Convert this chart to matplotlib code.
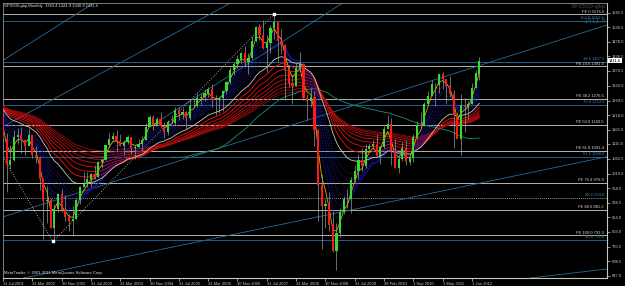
import numpy as np
import matplotlib
matplotlib.use("Agg")
import matplotlib.pyplot as plt

# monthly bars, Aug 2001 .. Mar 2012 (broker feed has 3 split bars in 2009/2010)
opens = [1211.2, 1133.6, 1040.9, 1059.8, 1139.5,
         1148.1, 1130.2, 1106.7, 1147.4, 1076.9, 1067.1, 989.8, 911.6, 916.1, 815.3, 885.8, 936.3,
         879.8, 855.7, 841.2, 848.2, 916.9, 963.6, 974.5, 990.3, 1008.0, 996.0, 1050.7, 1058.2,
         1111.9, 1131.1, 1144.9, 1126.2, 1107.3, 1120.7, 1140.8, 1101.7, 1104.2, 1114.6, 1130.2, 1173.8,
         1211.9, 1181.3, 1203.6, 1180.6, 1156.9, 1191.5, 1191.3, 1234.2, 1220.3, 1228.8, 1207.0, 1249.5,
         1248.3, 1280.1, 1280.7, 1294.8, 1310.6, 1270.1, 1270.2, 1276.7, 1303.8, 1335.9, 1377.9, 1400.6,
         1418.3, 1438.2, 1406.8, 1420.9, 1482.4, 1530.6, 1503.4, 1455.3, 1474.0, 1526.8, 1549.4, 1481.1,
         1468.4, 1378.6, 1330.6, 1322.7, 1385.6, 1400.4, 1280.0, 1267.4, 1282.8, 1166.4, 968.8, 896.2,
         903.3, 825.9, 735.1, 797.9, 872.8, 919.1, 919.3, 987.5, 1020.6, 1057.1, 1036.2, 1095.6, 1109.0,
         1115.1, 1073.9, 1104.5, 1169.4, 1186.7, 1089.4, 1030.7, 1060.3, 1101.6, 1049.3, 1064.6, 1141.2,
         1183.3, 1180.6,
         1257.6, 1286.1, 1327.2, 1325.8, 1363.6, 1345.2, 1320.6, 1292.3, 1218.9, 1131.4, 1253.3, 1247.0,
         1257.6, 1312.4, 1363.4]
highs = [1226.3, 1155.4, 1110.6, 1163.4, 1173.6,
         1176.6, 1130.2, 1173.0, 1147.8, 1106.6, 1070.7, 994.5, 965.0, 924.0, 900.1, 941.8, 954.3,
         935.1, 864.6, 895.9, 924.2, 965.4, 1015.3, 1015.4, 1011.0, 1040.0, 1053.8, 1063.7, 1112.6,
         1155.4, 1158.9, 1163.2, 1150.6, 1127.7, 1146.3, 1140.8, 1109.7, 1131.5, 1142.1, 1188.5, 1217.3,
         1217.9, 1212.4, 1229.1, 1191.9, 1199.6, 1219.6, 1245.2, 1245.9, 1243.1, 1233.3, 1270.6, 1275.8,
         1294.9, 1297.6, 1310.9, 1318.2, 1326.7, 1290.7, 1280.4, 1306.7, 1340.3, 1389.5, 1407.9, 1431.8,
         1441.6, 1461.6, 1438.9, 1498.0, 1535.6, 1540.6, 1555.9, 1503.9, 1538.7, 1576.1, 1552.8, 1523.6,
         1471.8, 1396.0, 1359.7, 1404.0, 1440.2, 1404.1, 1292.2, 1313.2, 1303.0, 1167.0, 1007.5, 918.9,
         943.9, 877.9, 833.0, 888.7, 930.2, 956.2, 996.7, 1039.5, 1080.2, 1101.4, 1113.7, 1119.7, 1130.4,
         1150.5, 1112.4, 1180.2, 1219.8, 1206.2, 1131.2, 1071.0, 1120.9, 1129.2, 1070.0, 1148.9, 1196.1,
         1227.1, 1262.6,
         1302.7, 1344.1, 1332.3, 1364.6, 1370.6, 1345.2, 1356.5, 1307.4, 1229.3, 1292.7, 1277.6, 1269.4,
         1333.5, 1378.0, 1424.9]
lows = [1124.9, 944.8, 1026.8, 1054.3, 1114.9,
        1081.7, 1074.4, 1106.7, 1063.5, 1048.9, 952.9, 775.7, 833.4, 815.3, 768.6, 872.1, 872.0,
        840.3, 806.3, 788.9, 847.9, 902.8, 963.6, 962.1, 960.8, 990.4, 996.0, 1031.2, 1058.2,
        1105.1, 1124.4, 1087.2, 1107.2, 1076.3, 1113.3, 1078.8, 1060.7, 1102.0, 1090.2, 1127.6, 1173.8,
        1163.8, 1180.1, 1176.9, 1136.2, 1146.2, 1188.3, 1183.6, 1201.1, 1205.4, 1168.2, 1201.1, 1246.6,
        1245.7, 1253.6, 1268.4, 1280.7, 1245.3, 1219.3, 1224.5, 1233.2, 1290.9, 1327.1, 1360.9, 1385.9,
        1403.9, 1389.1, 1363.8, 1416.4, 1476.7, 1484.2, 1454.3, 1370.6, 1439.3, 1489.6, 1406.1, 1435.7,
        1270.1, 1316.8, 1256.9, 1321.0, 1373.7, 1272.0, 1200.4, 1247.5, 1106.4, 839.8, 741.0, 815.7,
        804.3, 731.1, 666.8, 783.3, 866.1, 888.9, 869.3, 978.5, 991.0, 1020.2, 1029.4, 1085.9, 1098.0,
        1071.6, 1044.5, 1101.4, 1168.0, 1040.8, 1028.3, 1010.9, 1055.0, 1040.9, 1039.8, 1049.3, 1131.9,
        1173.0, 1180.6,
        1257.6, 1286.1, 1249.1, 1294.7, 1311.8, 1258.1, 1282.9, 1101.5, 1136.2, 1074.8, 1158.7, 1202.4,
        1257.6, 1312.4, 1340.9]
closes = [1133.6, 1040.9, 1059.8, 1139.5, 1148.1,
          1130.2, 1106.7, 1147.4, 1076.9, 1067.1, 989.8, 911.6, 916.1, 815.3, 885.8, 936.3, 879.8,
          855.7, 841.2, 848.2, 916.9, 963.6, 974.5, 990.3, 1008.0, 996.0, 1050.7, 1058.2, 1111.9,
          1131.1, 1144.9, 1126.2, 1107.3, 1120.7, 1140.8, 1101.7, 1104.2, 1114.6, 1130.2, 1173.8, 1211.9,
          1181.3, 1203.6, 1180.6, 1156.9, 1191.5, 1191.3, 1234.2, 1220.3, 1228.8, 1207.0, 1249.5, 1248.3,
          1280.1, 1280.7, 1294.8, 1310.6, 1270.1, 1270.2, 1276.7, 1303.8, 1335.9, 1377.9, 1400.6, 1418.3,
          1438.2, 1406.8, 1420.9, 1482.4, 1530.6, 1503.4, 1455.3, 1474.0, 1526.8, 1549.4, 1481.1, 1468.4,
          1378.6, 1330.6, 1322.7, 1385.6, 1400.4, 1280.0, 1267.4, 1282.8, 1166.4, 968.8, 896.2, 903.3,
          825.9, 735.1, 797.9, 872.8, 919.1, 919.3, 987.5, 1020.6, 1057.1, 1036.2, 1095.6, 1109.0, 1115.1,
          1073.9, 1104.5, 1169.4, 1186.7, 1089.4, 1030.7, 1060.3, 1101.6, 1049.3, 1064.6, 1141.2, 1183.3,
          1180.6, 1257.6,
          1286.1, 1327.2, 1325.8, 1363.6, 1345.2, 1320.6, 1292.3, 1218.9, 1131.4, 1253.3, 1247.0, 1257.6,
          1312.4, 1365.7, 1411.6]

# closes before the visible window (May-Jul 2001), only feed the averages
warmup_closes = [1255.8, 1224.4, 1211.2]

date_labels = ["11 Jul 2001", "31 Mar 2002", "30 Nov 2002", "31 Jul 2003", "31 Mar 2004",
               "30 Nov 2004", "31 Jul 2005", "31 Mar 2006", "30 Nov 2006", "31 Jul 2007",
               "31 Mar 2008", "30 Nov 2008", "31 Jul 2009", "28 Feb 2010", "1 Sep 2010",
               "1 May 2011", "1 Jan 2012"]
date_bars = [0, 8, 16, 24, 32, 40, 48, 56, 64, 72, 80, 88, 96, 104, 112, 120, 128]

price_ticks = [1581.5, 1530.5, 1478.0, 1426.5, 1374.5, 1322.0, 1269.5, 1218.0, 1166.0, 1115.0,
               1062.5, 1010.0, 958.0, 906.5, 854.0, 803.0, 750.5, 698.5, 647.0]

# Fibonacci expansion (grey)
fe_names = ["FE 0", "FE 23.6", "FE 38.2", "FE 50.0", "FE 61.8", "FE 76.4", "FE 88.6", "FE 100.0"]
fe_prices = [1576.5, 1391.0, 1276.5, 1183.5, 1091.4, 976.9, 881.2, 791.0]
# second fibo set (blue)
fb_names = ["100.0", "38.6", "76.4", "61.8", "88.6", "38.6"]
fb_prices = [1552.0, 1407.5, 1253.6, 1068.8, 924.8, 774.0]

# channel / fan lines, (bar, price) end points
trend_lines = [
    ((-0.5, 1408.5), (24.8, 1616.0)),
    ((-0.5, 1173.5), (62.1, 1616.0)),
    ((40.3, 1178.0), (92.7, 1616.0)),
    ((-0.5, 854.0), (164.9, 1538.0)),
    ((5.7, 639.0), (164.9, 1070.0)),
    ((143.9, 639.0), (164.9, 671.0)),
]
# dotted zigzag
zz_bars = [0.3, 13.6, 74.0]
zz_prices = [1061.0, 768.6, 1576.1]

period_fast = 3
periods_blue = [5, 7, 9, 11, 13, 15]
period_white = 20
periods_red = [25, 30, 35, 40, 45, 50, 55, 60]
period_teal = 50


def ema(vals, n):
    a = 2.0 / (n + 1)
    out = [vals[0]]
    for v in vals[1:]:
        out.append(out[-1] + a * (v - out[-1]))
    return np.array(out)


def sma(vals, n):
    v = np.asarray(vals, dtype=float)
    out = np.full(len(v), np.nan)
    cs = np.cumsum(v)
    out[n - 1:] = (cs[n - 1:] - np.concatenate([[0], cs[:-n]])) / n
    return out


FONT = "Liberation Sans"
FS = 3.0
plt.rcParams["font.family"] = [FONT, "DejaVu Sans"]

fig = plt.figure(figsize=(6.25, 2.86), dpi=100, facecolor="black")
ax = fig.add_axes([3 / 625, 8 / 286, 604 / 625, 275 / 286])
ax.set_facecolor("black")


def bar_of(px):
    return (px - 2) / 3.67


def price_of(py):
    return 1581.5 - (py - 12.7) * 3.553


ax.set_xlim(bar_of(3), bar_of(607))
ax.set_ylim(price_of(278), price_of(3))

all_close = warmup_closes + closes
xs_all = np.arange(len(all_close)) - len(warmup_closes)

# horizontal fibo lines
for name, p in zip(fe_names, fe_prices):
    ax.axhline(p, color="#b4b4aa", lw=0.7, zorder=1)
    ax.text(0.995, p + 2, f"{name} {p:.1f}", transform=ax.get_yaxis_transform(),
            ha="right", va="bottom", fontsize=FS, color="#d8d8d8", zorder=6)
for name, p in zip(fb_names, fb_prices):
    ls = (0, (1, 1)) if name == "88.6" else "-"
    col = "#8a8a8a" if name == "88.6" else "#1f5f8a"
    ax.axhline(p, color=col, lw=0.7, ls=ls, zorder=1)
    ax.text(0.995, p + 2, f"{name} {p:.1f}", transform=ax.get_yaxis_transform(),
            ha="right", va="bottom", fontsize=FS, color="#3a7fb0", zorder=6)

for (x0, y0), (x1, y1) in trend_lines:
    ax.plot([x0, x1], [y0, y1], color="#2a6a96", lw=0.6, zorder=1)

ax.plot(zz_bars, zz_prices, color="#d0d0d0", lw=0.6, ls=(0, (1, 2)), zorder=2)
ax.plot(zz_bars[1:], zz_prices[1:], ls="none", marker="s", ms=1.5, color="white", zorder=7)

# averages
for i, n in enumerate(periods_red):
    shade = 1.0 - 0.45 * i / (len(periods_red) - 1)
    ax.plot(xs_all, ema(all_close, n), color=(shade, 0.05, 0.05), lw=0.6, zorder=3)
ax.plot(xs_all, sma(all_close, period_teal), color="#1f8f6f", lw=0.6, zorder=3)
for i, n in enumerate(periods_blue):
    shade = 0.95 - 0.45 * i / (len(periods_blue) - 1)
    ax.plot(xs_all, ema(all_close, n), color=(0.1, 0.1, shade), lw=0.6,
            ls=(0, (1, 1)), zorder=3)
ax.plot(xs_all, ema(all_close, period_white), color="#c8c8c8", lw=0.6, zorder=3)
ax.plot(xs_all, ema(all_close, period_fast), color="#c8b400", lw=0.6, zorder=3)

# candles
xb = np.arange(len(closes))
o = np.array(opens)
c = np.array(closes)
ax.vlines(xb, lows, highs, color="#9a9a9a", lw=0.5, zorder=4)
up = c >= o
body = np.where(np.abs(c - o) < 2, 2, c - o)
ax.bar(xb[up], body[up], bottom=o[up], width=0.6, color="#32dc32", lw=0, zorder=5)
ax.bar(xb[~up], body[~up], bottom=o[~up], width=0.6, color="#ff1a1a", lw=0, zorder=5)

# axes frame and ticks
for side in ["top", "left"]:
    ax.spines[side].set_color("#909090")
    ax.spines[side].set_linewidth(0.6)
for side in ["right", "bottom"]:
    ax.spines[side].set_color("#c8c8b4")
    ax.spines[side].set_linewidth(0.8)
ax.yaxis.tick_right()
ax.set_yticks(price_ticks)
ax.set_yticklabels([f"{v:.1f}" for v in price_ticks])
ax.set_xticks(date_bars)
ax.set_xticklabels(date_labels)
ax.tick_params(axis="y", colors="#c8c8c8", labelsize=FS, length=2, width=0.5, pad=1.5)
ax.tick_params(axis="x", colors="#c8c8c8", labelsize=FS, length=2, width=0.5, pad=1.2)
for lab in ax.get_xticklabels():
    lab.set_horizontalalignment("left")

# current price box
ax.text(1.003, closes[-1], f"{closes[-1]:.1f}", transform=ax.get_yaxis_transform(),
        ha="left", va="center", fontsize=FS, color="black", zorder=8, clip_on=False,
        bbox=dict(boxstyle="square,pad=0.15", fc="white", ec="white", lw=0))

ax.text(0.002, 0.995, "SPX500-gbp,Monthly  1363.4 1424.9 1340.9 1411.6", transform=ax.transAxes,
        ha="left", va="top", fontsize=FS, color="#e0e0e0", zorder=8)
ax.text(0.002, 0.012, "MetaTrader, \u00a9 2001-2011 MetaQuotes Software Corp.", transform=ax.transAxes,
        ha="left", va="bottom", fontsize=FS, color="#e0e0e0", zorder=8)
ax.text(0.998, 0.997, "SPX500-gbp", transform=ax.transAxes, ha="right", va="top",
        fontsize=4.5, color="#3a4a5e", zorder=0)
ax.text(0.998, 0.945, "1411.6", transform=ax.transAxes, ha="right", va="top",
        fontsize=5.5, color="#2f4f4f", zorder=0)

fig.savefig("out.png", dpi=100, facecolor="black")
